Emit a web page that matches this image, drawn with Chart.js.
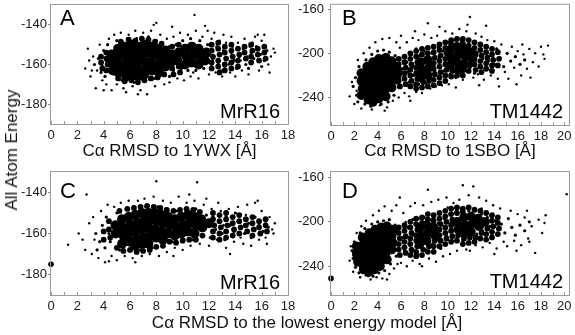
<!DOCTYPE html>
<html>
<head>
<meta charset="utf-8">
<script src="https://cdn.jsdelivr.net/npm/chart.js@4.4.1/dist/chart.umd.min.js"></script>
<style>
  body { margin: 0; width: 575px; height: 335px; overflow: hidden; background: #fff; position: relative; }
  canvas { position: absolute; }
  .title { position: absolute; font: 17px "Liberation Sans", Arial, sans-serif; color: #111; white-space: nowrap; }
  #ytitle { left: 12px; top: 150px; transform: translate(-50%, -50%) rotate(-90deg); }
  #xtitle { left: 307px; top: 323px; transform: translate(-50%, -50%); }
</style>
</head>
<body>
<canvas id="chartA" width="300" height="165" style="left:0;top:0"></canvas>
<canvas id="chartB" width="290" height="165" style="left:290px;top:0"></canvas>
<canvas id="chartC" width="300" height="150" style="left:0;top:165px"></canvas>
<canvas id="chartD" width="290" height="150" style="left:290px;top:165px"></canvas>
<div class="title" id="ytitle">All Atom Energy</div>
<div class="title" id="xtitle">Cα RMSD to the lowest energy model [Å]</div>
<script>
// tick labels
const mrrXTicks = [0, 2, 4, 6, 8, 10, 12, 14, 16, 18];
const tmXTicks = [0, 2, 4, 6, 8, 10, 12, 14, 16, 18, 20];
const mrrYTicks = [-180, -160, -140];
const tmYTicks = [-240, -200, -160];

// values: [RMSD, energy]
// "core" = solid black part of each cloud, "band" = dark speckled part,
// "mid" = its edge, "dots" = the sparse spread

const aCore = [
  [4.6,-155],[4.6,-159],[4.7,-163],
  [5.1,-152],[5.1,-156],[5.2,-160],[5.1,-164],
  [5.6,-151],[5.6,-155],[5.7,-159],[5.6,-163],[5.7,-166],
  [6.1,-150],[6.2,-153],[6.1,-157],[6.2,-161],[6.1,-165],
  [6.6,-151],[6.7,-155],[6.6,-159],[6.7,-163],[6.6,-166],
  [7.1,-150],[7.2,-154],[7.1,-158],[7.2,-162],[7.1,-165],
  [7.6,-151],[7.7,-155],[7.6,-159],[7.7,-163],
  [8.1,-152],[8.2,-156],[8.1,-160],[8.2,-164],
  [8.7,-153],[8.6,-157],[8.7,-161],
  [9.2,-155],[9.1,-159],
  [9.7,-154],[9.6,-158],
  [10.2,-152],[10.3,-156],[10.2,-160],
  [10.7,-151],[10.8,-155],[10.7,-159],
  [11.2,-152],[11.3,-156],[11.2,-160],
  [11.8,-154],[11.7,-158]
];
const aBand = [
  [12.2,-150],[12.2,-153],[12.3,-156],[12.2,-159],[12.2,-162],
  [12.7,-149],[12.7,-152],[12.8,-155],[12.7,-158],[12.7,-161],[12.8,-164],
  [13.2,-151],[13.2,-154],[13.3,-157],[13.2,-160],[13.2,-163],
  [13.7,-150],[13.7,-153],[13.8,-156],[13.7,-159],[13.7,-162],
  [14.2,-152],[14.3,-155],[14.2,-158],[14.2,-161],
  [14.7,-151],[14.7,-154],[14.8,-157],
  [15.2,-150],[15.3,-153],[15.2,-156],[15.2,-159],
  [15.7,-152],[15.7,-155],[15.8,-158],
  [16.2,-151],[16.2,-154],[16.3,-157],
  [4.2,-154],[4.2,-157],[4.3,-160],[4.2,-163],[3.8,-156],[3.8,-159],[3.9,-162],
  [9.2,-151],[9.2,-162],[9.3,-165],[9.7,-150],[9.7,-161],[9.8,-164],
  [5.3,-148.5],[5.9,-147.5],[6.4,-148],[6.9,-147],[7.4,-147.5],[7.9,-148.5],[8.4,-149.5],
  [5.1,-167],[5.6,-168.5],[6.1,-168],[6.6,-169],[7.1,-168],[7.6,-167],[8.1,-166.5],[8.6,-165]
];
const aMid = [
  [3.6,-157],[3.9,-161],[4.0,-153],[4.1,-166],[4.3,-150],[3.8,-164],[4.2,-158],
  [5.0,-148],[5.4,-168],[5.8,-147],[6.3,-169],[6.5,-147],[7.0,-168],[7.4,-146],
  [7.9,-167],[8.0,-148],[8.5,-165],[8.4,-149],[9.0,-151],[9.3,-163],[9.5,-150],
  [9.9,-162],[10.0,-148],[10.4,-163],[10.6,-147],[11.0,-163],[11.3,-148],[11.6,-162],
  [11.9,-150],[12.2,-153],[12.3,-157],[12.2,-161],[12.6,-151],[12.8,-155],[12.7,-159],
  [13.1,-153],[13.3,-157],[13.2,-161],[13.7,-154],[13.9,-158],[14.3,-156],[14.6,-152],
  [14.8,-160],[15.2,-154],[15.4,-157],[15.6,-151],[15.9,-155],[16.2,-158],[16.4,-153],
  [14.1,-162],[15.0,-162],[16.0,-161],[3.3,-160],[9.0,-166],[6.0,-148.5],[7.5,-167.5]
];
const aDots = [
  [2.6,-162],[2.8,-152],[3.0,-166],[3.2,-156],[3.4,-172],[3.5,-163],[3.7,-150],[3.9,-168],
  [4.2,-170],[4.4,-147],[4.6,-173],[4.8,-145],[5.0,-170],[5.3,-144],[5.5,-172],[5.9,-145],
  [6.2,-171],[6.4,-143],[6.8,-173],[7.0,-144],[7.3,-175],[7.6,-143],[7.9,-171],[8.0,-139],
  [8.3,-145],[8.6,-170],[8.8,-147],[9.0,-169],[9.3,-146],[9.6,-167],[9.8,-144],[10.1,-168],
  [10.4,-145],[10.6,-166],[10.9,-135],[11.0,-143],[11.2,-167],[11.5,-146],[11.7,-140.5],
  [12.0,-165],[12.2,-147],[12.5,-164],[12.8,-148],[13.0,-166],[13.3,-149],[13.6,-164],
  [13.8,-151],[14.0,-166],[14.2,-149],[14.5,-163],[14.7,-147],[15.0,-165],[15.3,-149],
  [15.5,-146],[15.8,-163],[16.0,-148],[16.2,-145],[16.5,-160],[16.7,-156],[16.9,-152],
  [16.6,-164],[15.7,-145],[14.4,-158],[13.5,-160],[12.4,-144],[9.2,-141],[7.8,-140],
  [6.6,-175],[5.7,-174],[4.0,-173],[2.9,-158],[3.1,-163],[10.8,-164],[11.9,-143],
  [13.1,-145],[16.3,-151],[17.0,-154],[15.1,-151],[14.9,-156],[12.9,-163],[13.7,-146]
];

const bCore = [
  [2.6,-218],[2.6,-225],[2.7,-232],[2.6,-238],
  [3.1,-212],[3.2,-218],[3.1,-224],[3.2,-230],[3.1,-236],[3.2,-242],
  [3.6,-208],[3.7,-214],[3.6,-220],[3.7,-226],[3.6,-232],[3.7,-238],[3.6,-244],
  [4.1,-205],[4.2,-211],[4.1,-217],[4.2,-223],[4.1,-229],[4.2,-235],[4.1,-241],
  [4.7,-204],[4.6,-210],[4.7,-216],[4.6,-222],[4.7,-228],[4.6,-234],[4.7,-239],
  [5.2,-207],[5.1,-213],[5.2,-219],[5.1,-225],[5.2,-231],
  [5.6,-212],[5.7,-218],[5.6,-224],
  [7.7,-208],[7.8,-215],[7.7,-222],
  [8.3,-206],[8.4,-213],[8.3,-220],
  [10.2,-197],[10.3,-204],[10.2,-211],
  [10.8,-194],[10.9,-201],[10.8,-208],[10.9,-215],
  [11.4,-196],[11.5,-203],[11.4,-210],
  [12.0,-199],[12.1,-206]
];
const bBand = [
  [5.8,-205],[5.8,-210],[5.9,-215],[5.8,-220],[5.8,-225],[5.9,-230],
  [6.3,-203],[6.3,-208],[6.4,-213],[6.3,-218],[6.3,-223],[6.4,-228],
  [6.8,-200],[6.8,-205],[6.9,-210],[6.8,-215],[6.8,-220],[6.9,-225],[6.8,-230],
  [7.3,-198],[7.3,-203],[7.4,-208],[7.3,-213],[7.3,-218],[7.4,-223],[7.3,-228],[7.3,-232],
  [7.8,-196],[7.8,-201],[7.9,-226],[7.8,-231],
  [8.3,-195],[8.3,-200],[8.4,-225],[8.3,-230],
  [8.8,-194],[8.8,-199],[8.9,-204],[8.8,-209],[8.8,-214],[8.9,-219],[8.8,-224],[8.8,-229],
  [9.3,-192],[9.3,-197],[9.4,-202],[9.3,-207],[9.3,-212],[9.4,-217],[9.3,-222],[9.3,-227],
  [9.8,-190],[9.8,-195],[9.9,-200],[9.8,-205],[9.8,-210],[9.9,-215],[9.8,-220],[9.8,-225],
  [10.3,-188],[10.3,-192],[10.4,-216],[10.3,-221],
  [10.8,-187],[10.8,-220],
  [11.3,-187],[11.3,-191],[11.4,-215],[11.3,-220],
  [11.8,-188],[11.8,-193],[11.9,-211],[11.8,-216],
  [12.3,-190],[12.3,-195],[12.4,-200],[12.3,-205],[12.3,-210],[12.4,-215],
  [12.8,-192],[12.8,-197],[12.9,-202],[12.8,-207],[12.8,-212],[12.9,-217],
  [13.3,-194],[13.3,-199],[13.4,-204],[13.3,-209],[13.3,-214],
  [13.8,-196],[13.8,-201],[13.9,-206],[13.8,-211],[13.8,-216],
  [14.3,-199],[14.4,-205],[14.3,-211]
];
const bMid = [
  [1.9,-230],[2.1,-222],[2.2,-238],[2.3,-244],[2.4,-212],[2.9,-246],[3.4,-248],[3.0,-206],
  [3.5,-201],[4.0,-198],[4.5,-197],[5.0,-199],[4.3,-246],[4.9,-244],[5.4,-238],[5.5,-202],
  [5.9,-206],[6.0,-230],[6.1,-214],[6.2,-222],[6.5,-208],[6.6,-217],[6.7,-226],[6.9,-201],
  [7.0,-212],[7.1,-220],[7.2,-229],[7.3,-196],[7.6,-202],[7.5,-228],[8.0,-198],[8.1,-227],
  [8.7,-200],[8.8,-208],[8.9,-216],[8.8,-224],[9.2,-195],[9.3,-204],[9.4,-212],[9.3,-220],
  [9.6,-198],[9.8,-207],[9.7,-216],[10.0,-190],[10.2,-219],[10.6,-188],[10.7,-222],
  [11.2,-189],[11.3,-217],[11.8,-192],[11.9,-213],[12.4,-195],[12.5,-202],[12.4,-210],
  [12.9,-197],[13.0,-205],[12.9,-213],[13.4,-199],[13.5,-207],[13.8,-202],[14.0,-210],
  [14.2,-196],[14.5,-204],[14.8,-212],[15.1,-200],[15.4,-207],[15.8,-203],[16.2,-210],
  [16.6,-206],[12.3,-218],[13.7,-215]
];
const bDots = [
  [1.6,-239],[1.8,-226],[2.0,-246],[2.3,-206],[2.6,-250],[2.8,-200],[3.3,-195],[3.5,-251],
  [3.8,-190],[4.2,-247],[4.4,-187],[4.8,-249],[5.0,-186],[5.3,-243],[5.6,-190],[5.8,-240],
  [6.0,-184],[6.3,-236],[6.5,-190],[6.8,-243],[7.0,-186],[7.3,-235],[7.5,-188],[7.8,-236],
  [8.0,-183],[8.3,-172.7],[8.5,-232],[8.6,-186],[9.0,-230],[9.1,-184],[9.5,-229],[9.8,-180],
  [10.1,-228],[10.4,-182],[10.7,-231],[11.0,-178],[11.3,-224],[11.6,-180],[11.9,-167],
  [12.2,-222],[12.4,-182],[12.6,-219],[12.9,-185],[13.1,-224],[13.4,-188],[13.7,-220],
  [14.0,-189],[14.3,-223],[14.6,-192],[14.9,-217],[15.2,-223],[15.5,-194],[15.7,-213],
  [16.0,-198],[16.3,-220],[16.5,-201],[16.8,-214],[17.0,-196],[17.3,-208],[17.5,-200],
  [17.8,-212],[18.0,-194],[18.3,-205],[18.6,-193],[17.1,-222],[15.9,-228],[14.4,-230],
  [11.7,-174],[9.3,-176],[7.2,-180],[6.7,-239],[4.6,-252],[3.7,-247],[13.3,-175],
  [10.9,-186],[16.4,-192],[18.2,-201],[12.7,-229],[5.9,-195],[2.2,-234]
];

const cCore = [
  [4.9,-156],[4.9,-160],
  [5.4,-153],[5.4,-157],[5.5,-161],[5.4,-165],
  [5.9,-152],[6.0,-156],[5.9,-160],[6.0,-164],
  [6.4,-151],[6.5,-155],[6.4,-159],[6.5,-163],[6.4,-166],
  [6.9,-150],[7.0,-154],[6.9,-158],[7.0,-162],[6.9,-165],
  [7.4,-150],[7.5,-153],[7.4,-157],[7.5,-161],[7.4,-165],
  [7.9,-150],[8.0,-154],[7.9,-158],[8.0,-162],
  [8.4,-151],[8.5,-155],[8.4,-159],[8.5,-163],
  [8.9,-152],[9.0,-156],[8.9,-160],
  [9.4,-153],[9.5,-157],[9.4,-161],
  [9.9,-152],[10.0,-156],[9.9,-160],
  [10.4,-151],[10.5,-155],[10.4,-159],
  [10.9,-152],[11.0,-156],[10.9,-160],
  [11.4,-153],[11.5,-157],
  [12.0,-155]
];
const cBand = [
  [12.3,-150],[12.3,-153],[12.4,-156],[12.3,-159],[12.3,-162],
  [12.8,-151],[12.8,-154],[12.9,-157],[12.8,-160],[12.8,-163],
  [13.3,-150],[13.3,-153],[13.4,-156],[13.3,-159],[13.3,-162],
  [13.8,-152],[13.8,-155],[13.9,-158],[13.8,-161],
  [14.3,-151],[14.3,-154],[14.4,-157],[14.3,-160],
  [14.8,-153],[14.8,-156],[14.9,-159],
  [15.3,-152],[15.3,-155],[15.4,-158],[15.3,-161],
  [15.8,-154],[15.8,-157],[15.9,-160],
  [16.3,-153],[16.3,-156],[16.4,-159],
  [4.4,-154],[4.4,-158],[4.5,-162],[4.0,-159],[4.0,-163],
  [5.2,-149],[5.8,-148],[6.3,-147.5],[6.8,-147],[7.3,-146.5],[7.8,-147],[8.3,-147.5],
  [8.8,-148.5],[9.3,-149],[9.8,-148.5],[10.3,-148],[10.8,-148.5],[11.3,-149.5],
  [5.0,-167],[5.5,-168.5],[6.0,-168],[6.5,-169],[7.0,-168.5],[7.5,-168],[8.0,-166.5],
  [8.5,-166],[9.0,-164],[9.5,-164.5],[10.0,-163.5],[10.5,-163],[11.0,-163],[11.5,-161]
];
const cMid = [
  [3.4,-160],[3.7,-164],[3.9,-156],[4.1,-167],[4.2,-152],[4.4,-160],[4.5,-164],[3.5,-168],
  [5.0,-150],[5.2,-168],[5.7,-148],[6.1,-168],[6.3,-147],[6.8,-168],[7.2,-147],[7.7,-167],
  [8.1,-147],[8.6,-166],[8.7,-148],[9.2,-164],[9.6,-149],[10.1,-163],[10.2,-148],[10.8,-163],
  [11.0,-148],[11.6,-161],[11.8,-151],[12.3,-152],[12.5,-158],[12.8,-154],[13.0,-160],
  [13.3,-152],[13.6,-156],[13.9,-159],[14.2,-154],[14.4,-157],[14.7,-160],[15.0,-155],
  [15.3,-158],[15.5,-152],[15.8,-156],[16.1,-159],[16.3,-154],[14.0,-150],[15.2,-162],
  [16.5,-157],[12.1,-162],[13.2,-163]
];
const cDots = [
  [1.3,-165.5],[2.1,-160],[2.7,-141],[2.6,-168],[2.9,-155],[3.1,-170],[3.2,-152],[3.6,-172],
  [3.8,-149],[4.1,-174],[4.3,-146],[4.6,-171],[4.8,-147],[5.0,-173],[5.3,-145],[5.6,-171],
  [5.9,-144],[6.2,-172],[6.6,-144],[6.9,-171],[7.1,-143],[7.5,-170],[7.8,-142],[8.0,-134.5],
  [8.2,-171],[8.5,-144],[8.8,-169],[9.1,-145],[9.4,-167],[9.7,-142],[10.0,-168],[10.3,-145],
  [10.6,-166],[10.9,-144],[11.1,-135],[11.3,-165],[11.6,-146],[12.0,-166],[12.2,-148],
  [12.6,-163],[12.9,-149],[13.3,-167],[13.6,-170],[13.5,-148],[13.9,-164],[14.2,-147],
  [14.6,-165],[14.9,-146],[15.2,-166],[15.5,-145],[15.8,-163],[16.0,-149],[16.3,-162],
  [16.6,-152],[16.8,-158],[17.0,-155],[16.4,-165],[15.7,-144],[14.4,-162],[12.7,-145],
  [10.5,-141],[9.3,-171],[6.4,-174],[4.4,-173.5],[3.3,-163],[2.4,-163],[11.8,-143],
  [13.1,-156],[14.8,-151],[16.9,-160]
];
const cLowest = [[0,-175]];

const dCore = [
  [2.2,-222],[2.2,-229],[2.3,-236],
  [2.7,-214],[2.8,-220],[2.7,-226],[2.8,-232],[2.7,-238],[2.8,-243],
  [3.3,-210],[3.2,-216],[3.3,-222],[3.2,-228],[3.3,-234],[3.2,-240],[3.3,-245],
  [3.8,-207],[3.8,-213],[3.7,-219],[3.8,-225],[3.7,-231],[3.8,-237],[3.7,-243],
  [4.3,-205],[4.3,-211],[4.2,-217],[4.3,-223],[4.2,-229],[4.3,-235],[4.2,-240],
  [4.8,-204],[4.8,-210],[4.7,-216],[4.8,-222],[4.7,-228],[4.8,-234],
  [5.3,-207],[5.2,-213],[5.3,-219],[5.2,-225],
  [7.6,-206],[7.7,-213],[7.6,-220],
  [8.2,-203],[8.3,-210],[8.2,-217],
  [8.8,-205],[8.9,-212],
  [10.8,-200],[10.9,-207],
  [11.4,-196],[11.5,-203],[11.4,-210],
  [12.0,-195],[12.1,-202],[12.0,-209],
  [12.6,-197],[12.7,-204],
  [13.2,-200]
];
const dBand = [
  [5.8,-205],[5.8,-210],[5.9,-215],[5.8,-220],[5.8,-225],[5.9,-230],
  [6.3,-203],[6.3,-208],[6.4,-213],[6.3,-218],[6.3,-223],[6.4,-228],
  [6.8,-200],[6.8,-205],[6.9,-210],[6.8,-215],[6.8,-220],[6.9,-225],[6.8,-230],
  [7.3,-197],[7.3,-202],[7.4,-207],[7.3,-212],[7.3,-217],[7.4,-222],[7.3,-227],[7.3,-231],
  [7.8,-196],[7.8,-201],[7.9,-225],[7.8,-230],
  [8.3,-193],[8.3,-198],[8.4,-222],[8.3,-227],
  [8.8,-194],[8.8,-199],[8.9,-217],[8.8,-222],[8.8,-227],
  [9.3,-192],[9.3,-197],[9.4,-202],[9.3,-207],[9.3,-212],[9.4,-217],[9.3,-222],
  [9.8,-190],[9.8,-195],[9.9,-200],[9.8,-205],[9.8,-210],[9.9,-215],[9.8,-220],
  [10.3,-188],[10.3,-193],[10.4,-198],[10.3,-203],[10.3,-208],[10.4,-213],[10.3,-218],
  [10.8,-187],[10.8,-192],[10.9,-212],[10.8,-217],
  [11.3,-188],[11.3,-191],[11.4,-215],[11.3,-220],
  [11.8,-187],[11.9,-214],[11.8,-219],
  [12.3,-189],[12.4,-214],[12.3,-218],
  [12.8,-190],[12.9,-210],[12.8,-215],
  [13.3,-192],[13.4,-206],[13.3,-211],[13.3,-216],
  [13.8,-194],[13.8,-199],[13.9,-204],[13.8,-209],[13.8,-214],
  [14.3,-196],[14.3,-201],[14.4,-206],[14.3,-211]
];
const dMid = [
  [1.8,-226],[1.9,-233],[2.0,-218],[2.1,-241],[2.4,-246],[2.5,-210],[2.9,-206],[3.0,-248],
  [3.5,-202],[3.6,-249],[4.0,-200],[4.5,-199],[4.1,-246],[4.6,-244],[5.0,-198],[5.1,-238],
  [5.5,-203],[5.6,-231],[5.8,-210],[5.9,-220],[6.2,-214],[6.3,-226],[6.6,-205],[6.7,-219],
  [6.9,-228],[7.0,-198],[7.1,-212],[7.3,-222],[7.5,-197],[7.4,-229],[8.0,-196],[8.1,-225],
  [8.6,-198],[8.7,-220],[9.2,-201],[9.3,-208],[9.2,-216],[9.4,-224],[9.7,-197],[9.8,-205],
  [9.9,-213],[10.2,-193],[10.3,-201],[10.2,-209],[10.4,-217],[10.7,-191],[10.8,-214],
  [11.2,-189],[11.3,-217],[11.8,-190],[11.9,-214],[12.4,-190],[12.5,-211],[12.9,-193],
  [13.0,-208],[13.4,-196],[13.6,-204],[13.8,-212],[14.1,-199],[14.3,-207],[14.6,-202],
  [14.9,-210],[15.2,-197],[15.5,-205],[15.8,-212],[16.2,-203],[16.6,-208],[17.0,-200]
];
const dDots = [
  [1.6,-235],[1.7,-222],[1.9,-245],[2.2,-210],[2.5,-250],[2.6,-204],[3.0,-199],[3.4,-252],
  [3.6,-194],[3.9,-250],[4.1,-190],[4.4,-251],[4.6,-186],[5.0,-247],[5.2,-190],[5.4,-242],
  [5.6,-185],[5.9,-178],[6.0,-237],[6.2,-192],[6.5,-240],[6.8,-186],[7.0,-235],[7.2,-183],
  [7.6,-238],[7.9,-185],[8.3,-171],[8.4,-233],[8.6,-182],[9.0,-236],[9.2,-180],[9.6,-231],
  [9.9,-178],[10.2,-229],[10.5,-183],[10.8,-226],[11.0,-180],[11.3,-167],[11.6,-225],
  [11.8,-176],[12.2,-168],[12.4,-221],[12.7,-178],[13.0,-223],[13.3,-181],[13.6,-219],
  [13.9,-185],[14.2,-224],[14.5,-188],[14.8,-218],[15.1,-222],[15.4,-190],[15.7,-217],
  [16.0,-193],[16.3,-221],[16.6,-196],[16.9,-215],[17.2,-204],[17.5,-228],[17.8,-198],
  [18.1,-210],[18.4,-194],[17.0,-218],[15.9,-226],[14.0,-229],[20.2,-175],[12.9,-188],
  [10.0,-187],[7.8,-240],[5.7,-238],[4.8,-252],[3.2,-249],[6.4,-200],[11.9,-226],
  [16.8,-190],[18.3,-201]
];
const dLowest = [[0,-251]];

const FONT = "'Liberation Sans', Arial, sans-serif";
Chart.defaults.font.family = FONT;
Chart.defaults.color = "#1a1a1a";

// frame, small inside ticks on x, panel letter and protein name
const panelDeco = {
  id: "panelDeco",
  afterDatasetsDraw(chart, args, opts) {
    const { ctx, chartArea: a } = chart;
    const xs = chart.scales.x;
    ctx.save();
    ctx.strokeStyle = "#9a9a9a";
    ctx.lineWidth = 1;
    ctx.strokeRect(a.left - 0.5, a.top - 0.5, a.right - a.left + 1, a.bottom - a.top + 1);
    ctx.beginPath();
    for (let v = 0; v <= xs.max; v++) {
      const px = Math.round(xs.getPixelForValue(v)) + 0.5;
      ctx.moveTo(px, a.bottom);
      ctx.lineTo(px, a.bottom - 3);
    }
    ctx.stroke();
    ctx.fillStyle = "#000";
    ctx.textAlign = "left";
    ctx.font = "22px " + FONT;
    ctx.fillText(opts.letter, a.left + opts.letterX, a.top + opts.letterY);
    ctx.textAlign = "right";
    ctx.font = "20px " + FONT;
    ctx.fillText(opts.name, a.right - opts.nameX, a.bottom - opts.nameY);
    ctx.restore();
  },
};

function pts(arr) {
  return arr.map((p) => ({ x: p[0], y: p[1] }));
}

function cloud(arr, r) {
  return {
    data: pts(arr),
    pointRadius: r,
    pointBackgroundColor: "#000",
    pointBorderWidth: 0,
    clip: false,
  };
}

function makePanel(id, p) {
  return new Chart(document.getElementById(id), {
    type: "scatter",
    data: {
      datasets: [
        cloud(p.core, p.coreR),
        cloud(p.band, 2.9),
        cloud(p.mid, 1.6),
        cloud(p.dots, 1.2),
        cloud(p.lowest || [], 2.8),
      ],
    },
    plugins: [panelDeco],
    options: {
      responsive: false,
      animation: false,
      events: [],
      layout: { padding: p.pad },
      plugins: {
        legend: { display: false },
        tooltip: { enabled: false },
        panelDeco: p.deco,
      },
      scales: {
        x: {
          type: "linear",
          min: 0,
          max: p.xMax,
          ticks: { padding: 4, font: { size: 13 }, maxRotation: 0, autoSkip: false },
          afterBuildTicks: (s) => { s.ticks = p.xTicks.map((v) => ({ value: v })); },
          afterFit: (s) => {
            s.height = p.xH;
            s.paddingLeft = 0; s.paddingRight = 0;
          },
          grid: { display: false, drawTicks: false },
          border: { display: false },
          title: {
            display: !!p.xTitle,
            text: p.xTitle || "",
            font: { size: 17, lineHeight: 1.2 },
            color: "#111",
            padding: { top: 0, bottom: 3 },
          },
        },
        y: {
          min: p.yMin,
          max: p.yMax,
          ticks: { padding: p.yPad, font: { size: 13 }, autoSkip: false },
          afterBuildTicks: (s) => { s.ticks = p.yTicks.map((v) => ({ value: v })); },
          afterFit: (s) => {
            s.width = p.yW;
            s.paddingTop = 0; s.paddingBottom = 0;
          },
          grid: { drawOnChartArea: false, tickLength: 3, color: "#8a8a8a" },
          border: { display: false },
        },
      },
    },
  });
}

makePanel("chartA", {
  core: aCore, band: aBand, mid: aMid, dots: aDots, coreR: 5,
  xMax: 18, xTicks: mrrXTicks, yMin: -190, yMax: -130, yTicks: mrrYTicks, yPad: 1,
  yW: 51, xH: 41, pad: { top: 3, right: 12, left: 0, bottom: 0 },
  xTitle: "Cα RMSD to 1YWX [Å]",
  deco: { letter: "A", letterX: 9, letterY: 20, name: "MrR16", nameX: 8, nameY: 6 },
});

makePanel("chartB", {
  core: bCore, band: bBand, mid: bMid, dots: bDots, coreR: 4.8,
  xMax: 20.4, xTicks: tmXTicks, yMin: -265, yMax: -156, yTicks: tmYTicks, yPad: 4,
  yW: 41, xH: 40, pad: { top: 3, right: 11, left: 0, bottom: 0 },
  xTitle: "Cα RMSD to 1SBO [Å]",
  deco: { letter: "B", letterX: 11, letterY: 20, name: "TM1442", nameX: 6, nameY: 7 },
});

makePanel("chartC", {
  core: cCore, band: cBand, mid: cMid, dots: cDots, lowest: cLowest, coreR: 5,
  xMax: 18, xTicks: mrrXTicks, yMin: -190, yMax: -130, yTicks: mrrYTicks, yPad: 1,
  yW: 51, xH: 20, pad: { top: 7, right: 12, left: 0, bottom: 0 },
  deco: { letter: "C", letterX: 9, letterY: 26, name: "MrR16", nameX: 8, nameY: 6 },
});

makePanel("chartD", {
  core: dCore, band: dBand, mid: dMid, dots: dDots, lowest: dLowest, coreR: 4.8,
  xMax: 20.4, xTicks: tmXTicks, yMin: -266, yMax: -155, yTicks: tmYTicks, yPad: 4,
  yW: 41, xH: 20, pad: { top: 7, right: 11, left: 0, bottom: 0 },
  deco: { letter: "D", letterX: 11, letterY: 26, name: "TM1442", nameX: 6, nameY: 7 },
});
</script>
</body>
</html>
